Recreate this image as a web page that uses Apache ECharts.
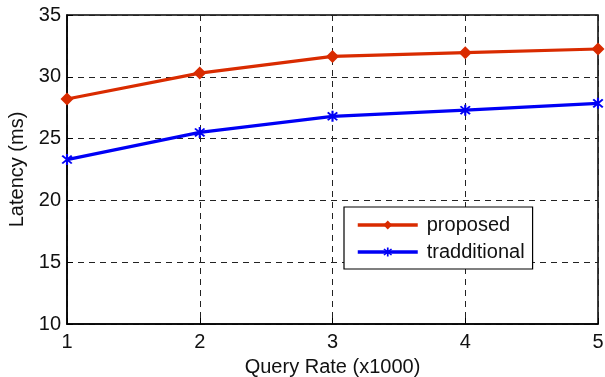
<!DOCTYPE html>
<html><head><meta charset="utf-8">
<script src="https://cdn.jsdelivr.net/npm/echarts@6/dist/echarts.min.js"></script>
<style>html,body{margin:0;padding:0;background:#fff}#c{width:605px;height:377px}</style>
</head><body><div id="c"></div>
<script>
var queryRate = [1, 2, 3, 4, 5];
var proposed = [28.2, 30.3, 31.65, 31.95, 32.25];
var traditional = [23.3, 25.5, 26.8, 27.3, 27.85];
var yTicks = [10, 15, 20, 25, 30, 35];
var seriesNames = ['proposed', 'tradditional'];

var FONT = '"Liberation Sans", Arial, sans-serif';
function pairs(ys){ return queryRate.map(function(x,i){ return [x, ys[i]]; }); }
var asterisk = 'path://M4.2,0H5.8V10H4.2Z M0.9,2.0L2.0,0.9L9.1,8.0L8.0,9.1Z M8.0,0.9L9.1,2.0L2.0,9.1L0.9,8.0Z';

var chart = echarts.init(document.getElementById('c'), null, {renderer:'canvas'});
chart.setOption({
  animation: false,
  backgroundColor: '#fff',
  grid: {left: 67, right: 7, top: 15, bottom: 53, outerBoundsMode: 'none', containLabel: false,
         show: true, borderColor: '#000', borderWidth: 1.5, backgroundColor: 'transparent'},
  xAxis: {
    type: 'value', min: 1, max: 5, interval: 1,
    name: 'Query Rate (x1000)', nameLocation: 'middle', nameGap: 33,
    nameTextStyle: {fontFamily: FONT, fontSize: 20, color: '#111'},
    axisLine: {show: true, lineStyle: {color: '#000', width: 1.5}},
    axisTick: {show: true, inside: true, length: 6, lineStyle: {color: '#000'}},
    axisLabel: {fontFamily: FONT, fontSize: 20, color: '#111', margin: 8},
    splitLine: {show: true, lineStyle: {color: '#222', type: [6, 5], width: 1}}
  },
  yAxis: {
    type: 'value', min: yTicks[0], max: yTicks[yTicks.length-1], interval: 5,
    name: 'Latency (ms)', nameLocation: 'middle', nameGap: 40,
    nameTextStyle: {fontFamily: FONT, fontSize: 20, color: '#111'},
    axisLine: {show: true, lineStyle: {color: '#000', width: 1.5}},
    axisTick: {show: true, inside: true, length: 6, lineStyle: {color: '#000'}},
    axisLabel: {fontFamily: FONT, fontSize: 20, color: '#111', margin: 6},
    splitLine: {show: true, lineStyle: {color: '#222', type: [6, 5], width: 1}}
  },
  legend: {
    orient: 'vertical', left: 344, top: 207,
    padding: [8, 8, 7, 12],
    itemWidth: 60, itemHeight: 11, itemGap: 7,
    borderColor: '#000', borderWidth: 1.2, backgroundColor: '#fff',
    lineStyle: {width: 3.5},
    textStyle: {fontFamily: FONT, fontSize: 20, color: '#111', padding: [0, 0, 0, 4]},
    data: seriesNames
  },
  series: [
    {name: seriesNames[0], type: 'line', data: pairs(proposed), color: '#D92B00',
     lineStyle: {width: 3.2, color: '#D92B00'}, symbol: 'diamond', symbolSize: 13,
     itemStyle: {color: '#D92B00'}, z: 3},
    {name: seriesNames[1], type: 'line', data: pairs(traditional), color: '#0000F5',
     lineStyle: {width: 3.2, color: '#0000F5'}, symbol: asterisk, symbolSize: 11,
     itemStyle: {color: '#0000F5'}, z: 3}
  ]
});
</script></body></html>
